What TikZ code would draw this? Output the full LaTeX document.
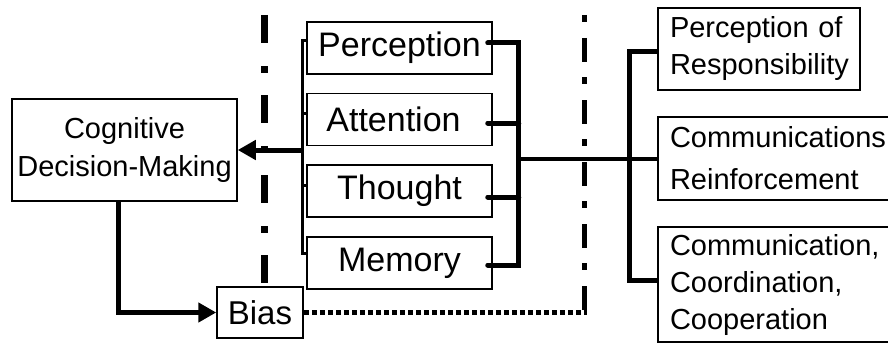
\documentclass[tikz,border=0pt]{standalone}
\usepackage{fontspec}
\setmainfont{Liberation Sans}
\usetikzlibrary{arrows.meta}
\begin{document}
\begin{tikzpicture}[x=1pt,y=-1pt,
  box/.style={draw,line width=1.5pt,inner sep=0pt,align=center},
  mbox/.style={box,minimum width=185pt,minimum height=52pt,font=\fontsize{34}{40}\selectfont},
  rbox/.style={draw,line width=1.5pt,align=left,inner xsep=12pt,inner ysep=0pt,font=\fontsize{29}{37}\selectfont},
  conn/.style={line width=5pt},
  thinconn/.style={line width=3pt},
  arr/.style={line width=5pt,-{Triangle[length=18pt,width=19pt]}},
  sepline/.style={line width=7pt,dash pattern=on 28pt off 23pt on 7pt off 22pt},
  sepline2/.style={line width=5pt,dash pattern=on 7pt off 16pt on 24pt off 15pt},
  dotline/.style={line width=5pt,dash pattern=on 5pt off 3pt}]
\clip (0,0) rectangle (888,345);
\fill[white] (0,0) rectangle (888,345);

% nodes
\node[box,minimum width=225pt,minimum height=102pt,font=\fontsize{29}{37}\selectfont] (cog) at (124.5,150) {Cognitive\\Decision-Making};
\node[box,minimum width=86pt,minimum height=51pt,font=\fontsize{33}{40}\selectfont] (bias) at (260,312.5) {Bias};
\node[mbox] (perc) at (399.5,48) {Perception};
\node[mbox] (att) at (399.5,119.5) {Attention\hspace*{12pt}};
\node[mbox] (tho) at (399.5,191) {Thought};
\node[mbox] (mem) at (399.5,263) {Memory};
\node[rbox,text width=178pt,minimum height=82pt] (por) at (759,49) {Perception of\\Responsibility};
\node[rbox,text width=218pt,minimum height=83pt,font=\fontsize{29}{42}\selectfont] (cr) at (779,158.5) {Communications\\Reinforcement};
\node[rbox,text width=218pt,minimum height=115pt] (ccc) at (779,284.5) {Communication,\\Coordination,\\Cooperation};

% separators
\coordinate (s1a) at (264.5,15);
\coordinate (s1b) at (264.5,287);
\coordinate (s2a) at (584,15);
\coordinate (s2b) at (584,314);
\draw[sepline] (s1a) -- (s1b);
\draw[sepline2] (s2a) -- (s2b);
\draw[dotline] (bias.east) -- (586.5,312.5);

% left bus
\coordinate (lb) at (302,150);
\draw[thinconn] ([yshift=7pt]perc.west) -| (lb) |- ([yshift=10pt]mem.west);
\draw[thinconn] ([xshift=1.5pt,yshift=6.5pt]att.west) -- ++(-6.5,0);
\draw[thinconn] ([xshift=1.5pt,yshift=6pt]tho.west) -- ++(-6.5,0);
\draw[arr] (lb) -- (cog.east);

% right bus
\coordinate (rb) at (518,158.5);
\draw[conn,line cap=round] ([xshift=-5pt,yshift=5pt]perc.east) -- ++(28.5,0);
\draw[conn] ([xshift=-2.5pt,yshift=5pt]perc.east) -| (rb) |- ([xshift=-5pt,yshift=-2pt]mem.east);
\draw[conn,line cap=round] ([xshift=-5pt,yshift=-2pt]mem.east) -- ++(10,0);
\draw[conn,line cap=round] ([xshift=-5pt,yshift=-3.5pt]att.east) -- ++(31,0);
\draw[conn,line cap=round] ([xshift=-5pt,yshift=-6pt]tho.east) -- ++(31,0);
\draw[line width=4pt] (rb) -- (cr.west);

% right fan-out
\coordinate (rb2) at (629,158.5);
\draw[conn] ([yshift=-3pt]por.west) -| (rb2) |- ([yshift=4.5pt]ccc.west);

% cognitive to bias
\draw[arr] ([xshift=-6.5pt]cog.south) |- (bias.west);
\end{tikzpicture}
\end{document}
